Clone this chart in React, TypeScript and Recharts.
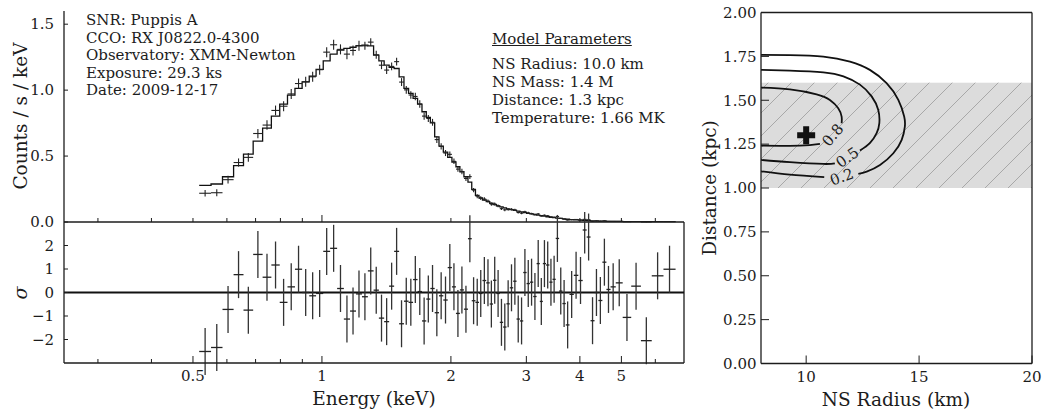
import {
  ComposedChart,
  Line,
  Scatter,
  XAxis,
  YAxis,
  ErrorBar,
  ReferenceLine,
  ReferenceArea,
} from "recharts";

const SERIF = "'DejaVu Serif', serif";
const INK = "#1c1c1c";

// ---- spectrum: bin edges (keV), model and data (counts / s / keV), residuals (sigma) ----
const binEdges = [
  0.517, 0.551, 0.586, 0.622, 0.656, 0.691, 0.727, 0.762, 0.797, 0.831,
  0.865, 0.899, 0.934, 0.969, 1.007, 1.045, 1.085, 1.125, 1.163, 1.201,
  1.24, 1.28, 1.32, 1.358, 1.397, 1.435, 1.474, 1.514, 1.554, 1.593,
  1.632, 1.672, 1.712, 1.752, 1.791, 1.833, 1.876, 1.92, 1.966, 2.011,
  2.055, 2.099, 2.145, 2.192, 2.237, 2.282, 2.326, 2.37, 2.418, 2.464,
  2.508, 2.554, 2.601, 2.648, 2.696, 2.745, 2.795, 2.846, 2.898, 2.95,
  3.004, 3.058, 3.113, 3.17, 3.225, 3.278, 3.335, 3.395, 3.453, 3.513,
  3.577, 3.642, 3.708, 3.783, 3.872, 3.967, 4.061, 4.149, 4.236, 4.328,
  4.418, 4.514, 4.613, 4.717, 4.851, 5.035, 5.271, 5.553, 5.886, 6.269,
  6.69,
];

const modelCounts = [
  0.278, 0.288, 0.343, 0.427, 0.515, 0.614, 0.712, 0.803, 0.894, 0.962,
  1.013, 1.063, 1.106, 1.157, 1.222, 1.273, 1.303, 1.316, 1.325, 1.338,
  1.341, 1.336, 1.265, 1.222, 1.189, 1.172, 1.164, 1.101, 1.013, 0.975,
  0.937, 0.894, 0.836, 0.793, 0.752, 0.646, 0.576, 0.53, 0.49, 0.455,
  0.419, 0.381, 0.343, 0.303, 0.248, 0.202, 0.182, 0.167, 0.154, 0.142,
  0.131, 0.122, 0.114, 0.107, 0.1, 0.094, 0.088, 0.082, 0.077, 0.071,
  0.066, 0.061, 0.057, 0.052, 0.048, 0.044, 0.04, 0.036, 0.033, 0.03,
  0.027, 0.024, 0.021, 0.018, 0.016, 0.014, 0.012, 0.01, 0.009, 0.008,
  0.007, 0.006, 0.005, 0.0045, 0.004, 0.0033, 0.0026, 0.002, 0.0016, 0.0012,
];

const dataCounts = [
  0.218, 0.222, 0.321, 0.451, 0.49, 0.671, 0.735, 0.846, 0.878, 0.971,
  1.05, 1.063, 1.101, 1.155, 1.288, 1.344, 1.309, 1.273, 1.301, 1.336,
  1.336, 1.364, 1.268, 1.189, 1.152, 1.18, 1.216, 1.061, 1.002, 0.963,
  0.952, 0.895, 0.803, 0.785, 0.756, 0.625, 0.573, 0.523, 0.513, 0.46,
  0.401, 0.383, 0.33, 0.344, 0.242, 0.196, 0.181, 0.174, 0.159, 0.136,
  0.137, 0.122, 0.101, 0.092, 0.095, 0.096, 0.092, 0.072, 0.067, 0.078,
  0.069, 0.064, 0.056, 0.061, 0.046, 0.051, 0.047, 0.038, 0.036, 0.042,
  0.027, 0.022, 0.015, 0.018, 0.019, 0.015, 0.02, 0.017, 0.0054, 0.008,
  0.0062, 0.0092, 0.0053, 0.005, 0.0048, 0.0017, 0.003, 0.0, 0.0023, 0.0022,
];

const countErrors = [
  0.024, 0.027, 0.03, 0.031, 0.033, 0.035, 0.036, 0.037, 0.038, 0.038,
  0.038, 0.038, 0.038, 0.038, 0.038, 0.038, 0.038, 0.038, 0.038, 0.038,
  0.03, 0.03, 0.03, 0.03, 0.03, 0.03, 0.03, 0.03, 0.03, 0.028,
  0.028, 0.028, 0.027, 0.027, 0.026, 0.025, 0.024, 0.023, 0.022, 0.021,
  0.02, 0.02, 0.019, 0.018, 0.016, 0.015, 0.014, 0.013, 0.012, 0.012,
  0.011, 0.011, 0.01, 0.01, 0.01, 0.009, 0.009, 0.008, 0.008, 0.008,
  0.008, 0.007, 0.007, 0.007, 0.006, 0.006, 0.006, 0.005, 0.005, 0.005,
  0.005, 0.004, 0.004, 0.004, 0.004, 0.003, 0.003, 0.003, 0.003, 0.003,
  0.0025, 0.0025, 0.002, 0.002, 0.002, 0.0015, 0.0015, 0.001, 0.001, 0.001,
];

const residuals = [
  -2.51, -2.34, -0.72, 0.76, -0.75, 1.62, 0.65, 1.17, -0.42, 0.24,
  0.99, 0.0, -0.14, -0.04, 1.75, 1.88, 0.17, -1.13, -0.79, -0.06,
  -0.18, 0.92, 0.1, -1.09, -1.24, 0.27, 1.75, -1.33, -0.37, -0.42,
  0.55, 0.04, -1.21, -0.28, 0.17, -0.86, -0.14, -0.32, 1.06, 0.24,
  -0.89, 0.11, -0.71, 2.29, -0.35, -0.42, -0.04, 0.51, 0.41, -0.49,
  0.52, -0.04, -1.27, -1.47, -0.48, 0.2, 0.48, -1.13, -1.21, 0.85,
  0.38, 0.44, -0.17, 1.23, -0.38, 1.23, 1.17, 0.44, 0.56, 2.3,
  0.06, -0.47, -1.38, -0.08, 0.73, 0.51, 2.66, 2.36, -1.2, 0.0,
  -0.34, 1.29, 0.13, 0.24, 0.41, -1.06, 0.27, -2.05, 0.71, 0.99,
];

const energyDomain: [number, number] = [0.25, 7.0];
const energyTicks = [0.3, 0.4, 0.5, 0.6, 0.7, 0.8, 0.9, 1, 2, 3, 4, 5, 6];
const energyLabels: Record<string, string> = { "0.5": "0.5", "1": "1", "2": "2", "3": "3", "4": "4", "5": "5" };
const countDomain: [number, number] = [0, 1.6];
const countTicks = [0, 0.5, 1.0, 1.5];
const sigmaDomain: [number, number] = [-3, 3];
const sigmaTicks = [-2, -1, 0, 1, 2];

// ---- radius / distance scan ----
const radiusDomain: [number, number] = [8, 20];
const radiusTicks = [10, 15, 20];
const distanceDomain: [number, number] = [0, 2];
const distanceTicks = [0, 0.25, 0.5, 0.75, 1.0, 1.25, 1.5, 1.75, 2.0];
const distancePrior = [1.0, 1.6];
const bestFit = [{ r: 10, d: 1.3 }];

const contour02Outer = [
  [8.0, 1.759], [9.28, 1.757], [10.76, 1.749], [11.94, 1.72], [12.82, 1.673], [13.56, 1.597],
  [14.08, 1.502], [14.34, 1.407], [14.37, 1.35], [14.23, 1.274], [13.86, 1.198], [13.27, 1.131],
  [12.68, 1.093], [12.31, 1.08],
];
const contour02Inner = [[10.8, 1.062], [9.28, 1.076], [8.0, 1.095]];
const contour05Outer = [
  [8.0, 1.673], [9.28, 1.669], [10.76, 1.659], [11.65, 1.636], [12.38, 1.589], [12.9, 1.522],
  [13.19, 1.446], [13.24, 1.37], [13.12, 1.313], [12.82, 1.256], [12.38, 1.214],
];
const contour05Inner = [[11.27, 1.141], [10.76, 1.137], [9.28, 1.147], [8.0, 1.16]];
const contour08Outer = [
  [8.0, 1.572], [9.28, 1.562], [10.46, 1.534], [11.05, 1.502], [11.42, 1.455], [11.57, 1.407], [11.57, 1.369],
];
const contour08Inner = [[10.61, 1.251], [9.72, 1.241], [8.0, 1.241]];

const contourLabels = ["0.8", "0.5", "0.2"];
const contourLabelRadius = [11.17, 11.82, 11.57];
const contourLabelDistance = [1.302, 1.175, 1.064];

// ---- tables for recharts ----
const specRows = binEdges.slice(0, -1).map((lo, i) => {
  const hi = binEdges[i + 1];
  const e = Math.sqrt(lo * hi);
  return { e, c: dataCounts[i], cErr: countErrors[i], eErr: [e - lo, hi - e], s: residuals[i], sErr: 1 };
});
const modelRows = binEdges.map((e, i) => ({ e, m: modelCounts[Math.min(i, modelCounts.length - 1)] }));
const toRows = (pts: number[][]) => pts.map(([r, d]) => ({ r, d }));
const labelRows = contourLabels.map((text, i) => ({ r: contourLabelRadius[i], d: contourLabelDistance[i], text }));
const labelAngle: Record<string, number> = { "0.8": -50, "0.5": -35, "0.2": -20 };

// ---- ticks (drawn inward, matplotlib style) ----
const X_GAP = 13;
const Y_GAP = 10;
const R_GAP = 4.5;
const textStyle = { fontFamily: SERIF, fontSize: 15, fill: INK };

const noShape = () => <g />;

function energyTick(withLabels: boolean) {
  return (props: any) => {
    const { x, y, payload } = props;
    const label = energyLabels[String(payload.value)];
    const axisY = y - X_GAP;
    const len = withLabels ? (label ? 7 : 4) : payload.value === 1 ? 7 : 4;
    return (
      <g>
        <line x1={x} x2={x} y1={axisY} y2={axisY - len} stroke={INK} strokeWidth={1} />
        {withLabels && label && (
          <text x={x} y={y} dy="0.35em" textAnchor="middle" style={textStyle}>
            {label}
          </text>
        )}
      </g>
    );
  };
}

function leftTick(format: (v: number) => string, gap: number, len: number) {
  return (props: any) => {
    const { x, y, payload } = props;
    const axisX = x + gap;
    return (
      <g>
        <line x1={axisX} x2={axisX + len} y1={y} y2={y} stroke={INK} strokeWidth={1} />
        <text x={x} y={y} dy="0.35em" textAnchor="end" style={textStyle}>
          {format(payload.value)}
        </text>
      </g>
    );
  };
}

function bottomTick(props: any) {
  const { x, y, payload } = props;
  const axisY = y - X_GAP;
  return (
    <g>
      <line x1={x} x2={x} y1={axisY} y2={axisY - 8} stroke={INK} strokeWidth={1} />
      <text x={x} y={y} dy="0.35em" textAnchor="middle" style={textStyle}>
        {payload.value}
      </text>
    </g>
  );
}

const HatchRect = (props: any) => {
  const { x, y, width, height } = props;
  return (
    <g>
      <defs>
        <pattern id="prior-hatch" patternUnits="userSpaceOnUse" width={23} height={23}>
          <path d="M0,23 L23,0 M-6,6 L6,-6 M17,29 L29,17" stroke="#9a9a9a" strokeWidth={0.8} />
        </pattern>
      </defs>
      <rect x={x} y={y} width={width} height={height} fill="#dcdcdc" />
      <rect x={x} y={y} width={width} height={height} fill="url(#prior-hatch)" />
    </g>
  );
};

const PlusMarker = (props: any) => {
  const { cx, cy } = props;
  return <path d={`M${cx - 3},${cy - 9}h6v6h6v6h-6v6h-6v-6h-6v-6h6z`} fill="#111" />;
};

const ContourLabel = (props: any) => {
  const { cx, cy, payload } = props;
  return (
    <text
      x={cx}
      y={cy}
      dy="0.35em"
      textAnchor="middle"
      style={textStyle}
      transform={`rotate(${labelAngle[payload.text]}, ${cx}, ${cy})`}
    >
      {payload.text}
    </text>
  );
};

const axisLine = { stroke: INK, strokeWidth: 1.3 };

function Title({ x, y, size, rotate, italic, children }: any) {
  return (
    <div
      style={{
        position: "absolute",
        left: x,
        top: y,
        transform: `translate(-50%, -50%) rotate(${rotate || 0}deg)`,
        whiteSpace: "nowrap",
        fontFamily: SERIF,
        fontStyle: italic ? "italic" : "normal",
        fontSize: size,
        lineHeight: 1,
        color: INK,
      }}
    >
      {children}
    </div>
  );
}

export default function App() {
  const contourStyle = { stroke: "#111", strokeWidth: 1.8, dot: false, isAnimationActive: false } as const;
  const block = { position: "absolute" as const, fontFamily: SERIF, fontSize: 15, whiteSpace: "nowrap" as const, color: INK };
  return (
    <div
      style={{
        position: "fixed",
        left: 0,
        top: 0,
        width: 1044,
        height: 418,
        background: "#fff",
        fontFamily: SERIF,
        color: INK,
        overflow: "hidden",
      }}
    >
      {/* spectrum */}
      <div style={{ position: "absolute", left: 0, top: 0 }}>
        <ComposedChart width={700} height={240} margin={{ top: 11, right: 16, bottom: 0, left: 0 }}>
          <XAxis
            dataKey="e"
            type="number"
            scale="log"
            domain={energyDomain}
            allowDataOverflow
            ticks={energyTicks}
            interval={0}
            height={18}
            tickSize={0}
            tickMargin={X_GAP}
            tickLine={false}
            axisLine={axisLine}
            tick={energyTick(false)}
          />
          <YAxis
            type="number"
            domain={countDomain}
            allowDataOverflow
            ticks={countTicks}
            interval={0}
            width={64}
            tickSize={0}
            tickMargin={Y_GAP}
            tickLine={false}
            axisLine={axisLine}
            tick={leftTick((v) => v.toFixed(1), Y_GAP, 4)}
          />
          <Line
            data={modelRows}
            dataKey="m"
            type="stepAfter"
            stroke="#111"
            strokeWidth={1.3}
            dot={false}
            isAnimationActive={false}
          />
          <Scatter data={specRows} dataKey="c" shape={noShape} isAnimationActive={false}>
            <ErrorBar dataKey="cErr" direction="y" width={0} stroke="#222" strokeWidth={1.1} />
            <ErrorBar dataKey="eErr" direction="x" width={0} stroke="#222" strokeWidth={1.1} />
          </Scatter>
        </ComposedChart>
      </div>

      {/* residuals */}
      <div style={{ position: "absolute", left: 0, top: 212 }}>
        <ComposedChart width={700} height={206} margin={{ top: 10, right: 16, bottom: 0, left: 0 }}>
          <XAxis
            dataKey="e"
            type="number"
            scale="log"
            domain={energyDomain}
            allowDataOverflow
            ticks={energyTicks}
            interval={0}
            height={55}
            tickSize={0}
            tickMargin={X_GAP}
            tickLine={false}
            axisLine={axisLine}
            tick={energyTick(true)}
          />
          <YAxis
            type="number"
            domain={sigmaDomain}
            allowDataOverflow
            ticks={sigmaTicks}
            interval={0}
            width={64}
            tickSize={0}
            tickMargin={Y_GAP}
            tickLine={false}
            axisLine={axisLine}
            tick={leftTick((v) => (v < 0 ? `\u2212${Math.abs(v)}` : `${v}`), Y_GAP, 4)}
          />
          <ReferenceLine x={energyDomain[1]} stroke={INK} strokeWidth={1.3} />
          <ReferenceLine y={0} stroke="#111" strokeWidth={2} />
          <Scatter data={specRows} dataKey="s" shape={noShape} isAnimationActive={false}>
            <ErrorBar dataKey="sErr" direction="y" width={0} stroke="#333" strokeWidth={1.3} />
            <ErrorBar dataKey="eErr" direction="x" width={0} stroke="#222" strokeWidth={1.3} />
          </Scatter>
        </ComposedChart>
      </div>

      {/* radius / distance */}
      <div style={{ position: "absolute", left: 690, top: 0 }}>
        <ComposedChart width={354} height={418} margin={{ top: 12.5, right: 12, bottom: 0, left: 0 }}>
          <XAxis
            dataKey="r"
            type="number"
            domain={radiusDomain}
            allowDataOverflow
            ticks={radiusTicks}
            interval={0}
            height={54.5}
            tickSize={0}
            tickMargin={X_GAP}
            tickLine={false}
            axisLine={axisLine}
            tick={bottomTick}
          />
          <YAxis
            type="number"
            domain={distanceDomain}
            allowDataOverflow
            ticks={distanceTicks}
            interval={0}
            width={71}
            tickSize={0}
            tickMargin={R_GAP}
            tickLine={false}
            axisLine={axisLine}
            tick={leftTick((v) => v.toFixed(2), R_GAP, 8)}
          />
          <ReferenceArea
            x1={radiusDomain[0]}
            x2={radiusDomain[1]}
            y1={distancePrior[0]}
            y2={distancePrior[1]}
            shape={HatchRect}
          />
          <ReferenceLine x={radiusDomain[1]} stroke={INK} strokeWidth={1.3} />
          <ReferenceLine y={distanceDomain[1]} stroke={INK} strokeWidth={1.3} />
          <Line data={toRows(contour02Outer)} dataKey="d" type="natural" {...contourStyle} />
          <Line data={toRows(contour02Inner)} dataKey="d" type="natural" {...contourStyle} />
          <Line data={toRows(contour05Outer)} dataKey="d" type="natural" {...contourStyle} />
          <Line data={toRows(contour05Inner)} dataKey="d" type="natural" {...contourStyle} />
          <Line data={toRows(contour08Outer)} dataKey="d" type="natural" {...contourStyle} />
          <Line data={toRows(contour08Inner)} dataKey="d" type="natural" {...contourStyle} />
          <Scatter data={labelRows} dataKey="d" shape={ContourLabel} isAnimationActive={false} />
          <Scatter data={bestFit} dataKey="d" shape={PlusMarker} isAnimationActive={false} />
        </ComposedChart>
      </div>

      {/* annotations */}
      <div style={{ ...block, left: 86, top: 12, lineHeight: "17.6px" }}>
        <div>SNR: Puppis A</div>
        <div>CCO: RX J0822.0-4300</div>
        <div>Observatory: XMM-Newton</div>
        <div>Exposure: 29.3 ks</div>
        <div>Date: 2009-12-17</div>
      </div>
      <div style={{ ...block, left: 492, top: 30.5, lineHeight: "17.6px", textDecoration: "underline" }}>
        Model Parameters
      </div>
      <div style={{ ...block, left: 492, top: 55.3, lineHeight: "18px" }}>
        <div>NS Radius: 10.0 km</div>
        <div>NS Mass: 1.4 M</div>
        <div>Distance: 1.3 kpc</div>
        <div>Temperature: 1.66 MK</div>
      </div>

      <Title x={21} y={116} size={18.5} rotate={-90}>Counts / s / keV</Title>
      <Title x={20} y={293} size={19} rotate={-90} italic>σ</Title>
      <Title x={374} y={399} size={18.5}>Energy (keV)</Title>
      <Title x={710} y={188} size={18.5} rotate={-90}>Distance (kpc)</Title>
      <Title x={896} y={400} size={18.5}>NS Radius (km)</Title>
    </div>
  );
}
